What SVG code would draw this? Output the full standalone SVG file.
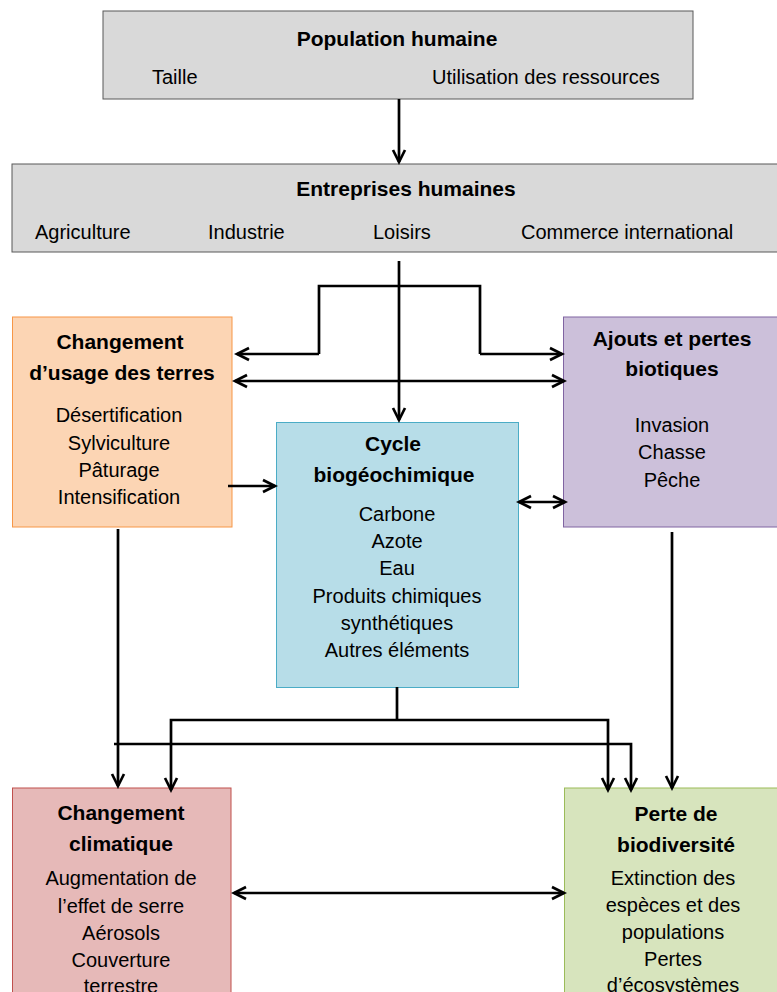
<svg xmlns="http://www.w3.org/2000/svg" width="777" height="992" viewBox="0 0 777 992">
<style>
text{font-family:"Liberation Sans",Arial,sans-serif;font-size:20px;fill:#000}
.t{font-weight:bold;font-size:21px}
.c{text-anchor:middle}
.w{fill:none;stroke:#000;stroke-width:2.7}
</style>
<defs>
<marker id="a" markerUnits="userSpaceOnUse" markerWidth="16" markerHeight="16" viewBox="0 0 16 16" refX="13" refY="8" orient="auto-start-reverse">
<path d="M1,2 L13,8 L1,14" fill="none" stroke="#000" stroke-width="2.7"/>
</marker>
</defs>
<rect width="777" height="992" fill="#fff"/>
<g id="population">
<rect x="103" y="11" width="590" height="88" fill="#d9d9d9" stroke="#595959" stroke-width="1"/>
<text class="t c" x="397" y="46">Population humaine</text>
<text x="152" y="84">Taille</text>
<text x="432" y="84">Utilisation des ressources</text>
</g>
<g id="entreprises">
<rect x="12" y="164" width="775" height="88" fill="#d9d9d9" stroke="#595959" stroke-width="1"/>
<text class="t c" x="406" y="196">Entreprises humaines</text>
<text x="35" y="239">Agriculture</text>
<text x="208" y="239">Industrie</text>
<text x="373" y="239">Loisirs</text>
<text x="521" y="239">Commerce international</text>
</g>
<g id="usage">
<rect x="12.5" y="317" width="219.5" height="210" fill="#fcd5b4" stroke="#f79646" stroke-width="1"/>
<text class="t c" x="120" y="349">Changement</text>
<text class="t c" x="122" y="380">d’usage des terres</text>
<text class="c" x="119" y="422">Désertification</text>
<text class="c" x="119" y="450">Sylviculture</text>
<text class="c" x="119" y="477">Pâturage</text>
<text class="c" x="119" y="504">Intensification</text>
</g>
<g id="biotiques">
<rect x="563.5" y="317" width="224" height="210" fill="#ccc0da" stroke="#8064a2" stroke-width="1"/>
<text class="t c" x="672" y="346">Ajouts et pertes</text>
<text class="t c" x="672" y="376">biotiques</text>
<text class="c" x="672" y="432">Invasion</text>
<text class="c" x="672" y="459">Chasse</text>
<text class="c" x="672" y="487">Pêche</text>
</g>
<g id="cycle">
<rect x="276.5" y="422.5" width="242" height="265" fill="#b7dde8" stroke="#4bacc6" stroke-width="1"/>
<text class="t c" x="393" y="451">Cycle</text>
<text class="t c" x="394" y="482">biogéochimique</text>
<text class="c" x="397" y="521">Carbone</text>
<text class="c" x="397" y="548">Azote</text>
<text class="c" x="397" y="575">Eau</text>
<text class="c" x="397" y="603">Produits chimiques</text>
<text class="c" x="397" y="630">synthétiques</text>
<text class="c" x="397" y="657">Autres éléments</text>
</g>
<g id="climat">
<rect x="12.5" y="788" width="218.5" height="220" fill="#e6b9b8" stroke="#c0504d" stroke-width="1"/>
<text class="t c" x="121" y="820">Changement</text>
<text class="t c" x="121" y="851">climatique</text>
<text class="c" x="121" y="885">Augmentation de</text>
<text class="c" x="121" y="913">l’effet de serre</text>
<text class="c" x="121" y="940">Aérosols</text>
<text class="c" x="121" y="967">Couverture</text>
<text class="c" x="121" y="993">terrestre</text>
</g>
<g id="biodiversite">
<rect x="564.5" y="788" width="224" height="220" fill="#d7e4bd" stroke="#9bbb59" stroke-width="1"/>
<text class="t c" x="676" y="821">Perte de</text>
<text class="t c" x="676" y="852">biodiversité</text>
<text class="c" x="673" y="885">Extinction des</text>
<text class="c" x="673" y="912">espèces et des</text>
<text class="c" x="673" y="939">populations</text>
<text class="c" x="673" y="966">Pertes</text>
<text class="c" x="673" y="992">d’écosystèmes</text>
</g>
<g id="connectors">
<path class="w" d="M399,99 V162" marker-end="url(#a)"/>
<path class="w" d="M399,261 V420" marker-end="url(#a)"/>
<path class="w" d="M319,354 V286 H480 V354" />
<path class="w" d="M319,354 H237" marker-end="url(#a)"/>
<path class="w" d="M480,354 H562" marker-end="url(#a)"/>
<path class="w" d="M235,381 H564" marker-start="url(#a)" marker-end="url(#a)"/>
<path class="w" d="M228,486 H275" marker-end="url(#a)"/>
<path class="w" d="M519,502 H565" marker-start="url(#a)" marker-end="url(#a)"/>
<path class="w" d="M118,529 V786" marker-end="url(#a)"/>
<path class="w" d="M672,532 V788" marker-end="url(#a)"/>
<path class="w" d="M397,687 V720"/>
<path class="w" d="M171,790 V720 H608 V790" marker-start="url(#a)" marker-end="url(#a)"/>
<path class="w" d="M114,744 H631 V790" marker-end="url(#a)"/>
<path class="w" d="M234,893 H564" marker-start="url(#a)" marker-end="url(#a)"/>
</g>
</svg>
